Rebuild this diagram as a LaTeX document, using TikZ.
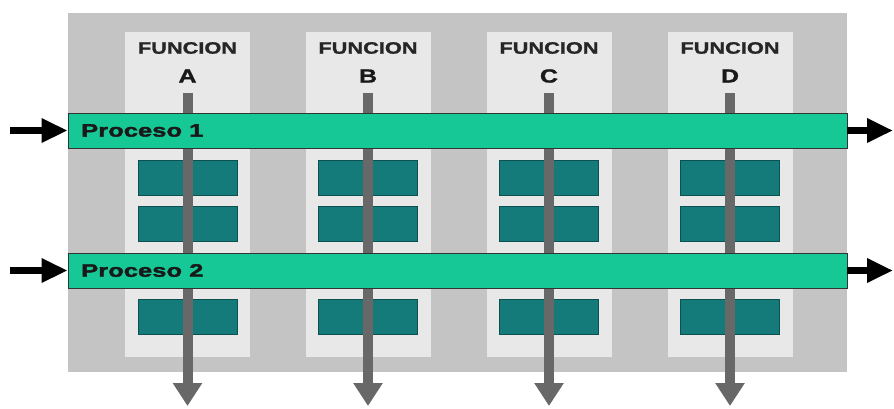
\documentclass[tikz,border=0pt]{standalone}
\usepackage{fontspec}
\setmainfont{Liberation Sans}
\newfontfamily\widefont[FakeStretch=1.32,BoldFeatures={FakeBold=1.2}]{Liberation Sans}
\newfontfamily\barfont[FakeStretch=1.42,BoldFeatures={FakeBold=2}]{Liberation Sans}
\usetikzlibrary{arrows.meta}
\definecolor{outergray}{RGB}{196,196,196}
\definecolor{colgray}{RGB}{232,232,232}
\definecolor{barg}{RGB}{22,200,150}
\definecolor{teal}{RGB}{20,122,122}
\definecolor{tealdk}{RGB}{12,80,80}
\definecolor{arrgray}{RGB}{104,104,104}
\tikzset{
  bgbox/.style={fill=outergray, draw=none, minimum width=779pt, minimum height=359pt, inner sep=0pt},
  colbox/.style={fill=colgray, draw=none, minimum width=125pt, minimum height=325pt, inner sep=0pt},
  tealbox/.style={fill=teal, draw=tealdk, line width=0.8pt, minimum width=99pt, minimum height=35pt, inner sep=0pt},
  barbox/.style={fill=barg, draw=black!80, line width=0.9pt, minimum width=779pt, minimum height=35pt, inner sep=0pt},
  functext/.style={font=\widefont\bfseries\fontsize{16.5}{18}\selectfont, text=black!85, inner sep=0pt},
  lettertext/.style={font=\widefont\bfseries\fontsize{19}{21}\selectfont, text=black!90, inner sep=0pt},
  bartext/.style={font=\barfont\bfseries\fontsize{18}{20}\selectfont, text=black!90, inner sep=0pt, anchor=west},
  varrow/.style={draw=arrgray, line width=10pt, -{Triangle[width=28pt,length=23pt]}},
  harrow/.style={draw=black, line width=7pt, -{Triangle[width=23pt,length=26pt]}}
}
\begin{document}
\begin{tikzpicture}[x=1pt,y=-1pt]
\useasboundingbox[fill=white] (0,0) rectangle (894,408);
\node[bgbox] (bg) at (457.5,192.5) {};
\foreach \cx/\l in {187.5/A,368/B,549/C,730/D} {
  \node[colbox] (col\l) at (\cx,194.5) {};
  \node[functext] (fn\l) at (\cx,48) {FUNCION};
  \node[lettertext] (lt\l) at (\cx,76) {\l};
  \node[tealbox] (t1\l) at (\cx,177.5) {};
  \node[tealbox] (t2\l) at (\cx,224) {};
  \node[tealbox] (t3\l) at (\cx,317) {};
  \coordinate (top\l) at (\cx,93);
  \coordinate (bot\l) at (\cx,406);
  \draw[varrow] (top\l) -- (bot\l);
}
\node[barbox] (p1) at (457.5,130.5) {};
\node[barbox] (p2) at (457.5,270.5) {};
\node[bartext] (p1t) at (81,130.5) {Proceso 1};
\node[bartext] (p2t) at (81,270.5) {Proceso 2};
\coordinate (in1) at (10,130.5);
\coordinate (in2) at (10,270.5);
\coordinate (out1) at (893,130.5);
\coordinate (out2) at (893,270.5);
\draw[harrow] (in1) -- (p1.west);
\draw[harrow] (in2) -- (p2.west);
\draw[harrow] (p1.east) -- (out1);
\draw[harrow] (p2.east) -- (out2);
\end{tikzpicture}
\end{document}
